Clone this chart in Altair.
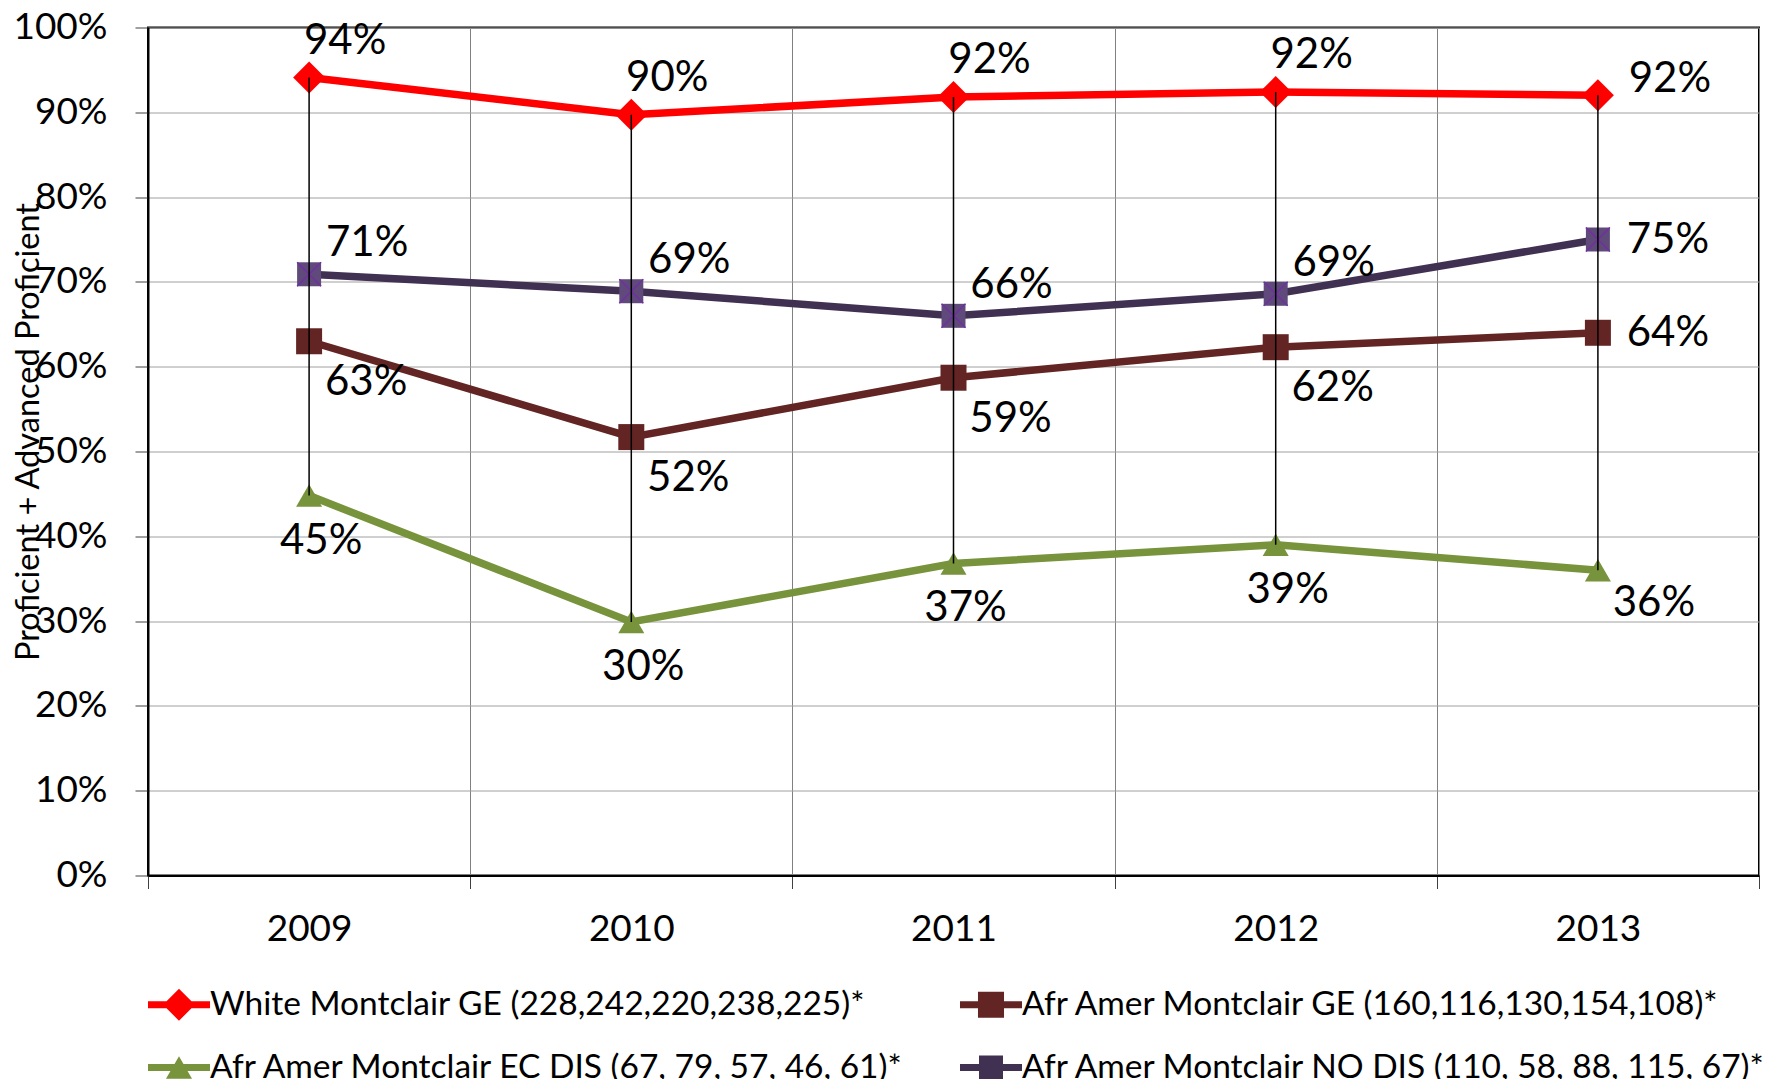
import altair as alt
import pandas as pd

years = ["2009", "2010", "2011", "2012", "2013"]
series_names = [
    "White Montclair GE (228,242,220,238,225)*",
    "Afr Amer Montclair GE (160,116,130,154,108)*",
    "Afr Amer Montclair EC DIS (67, 79, 57, 46, 61)*",
    "Afr Amer Montclair NO DIS (110, 58, 88, 115, 67)*",
]
white_ge = [0.941, 0.897, 0.918, 0.924, 0.920]
afr_ge = [0.630, 0.517, 0.587, 0.623, 0.640]
afr_ec_dis = [0.448, 0.299, 0.368, 0.390, 0.360]
afr_no_dis = [0.709, 0.689, 0.660, 0.686, 0.750]
y_ticks = [0, 0.1, 0.2, 0.3, 0.4, 0.5, 0.6, 0.7, 0.8, 0.9, 1.0]

line_colors = ["#FF0000", "#632523", "#77933C", "#403152"]
marker_fills = ["#FF0000", "#632523", "#77933C", "#604A7B"]
marker_shapes = ["diamond", "square", "triangle-up", "square"]
marker_sizes = [1024, 676, 676, 576]

# label offsets per series: (dx, dy) for inner years, (dx, dy) for last year
label_off = [((36, -37), (72, -16)),
             ((57, 41), (70, 0)),
             ((12, 45), (56, 33)),
             ((58, -31), (70, 0))]

legend_paths = [
    "M-1,-0.113L-0.403,-0.113L0,-0.516L0.403,-0.113L1,-0.113L1,0.113L0.403,0.113L0,0.516L-0.403,0.113L-1,0.113Z",
    "M-1,-0.113L-0.42,-0.113L-0.42,-0.42L0.42,-0.42L0.42,-0.113L1,-0.113L1,0.113L0.42,0.113L0.42,0.42L-0.42,0.42L-0.42,0.113L-1,0.113Z",
    "M-1,-0.113L-0.145,-0.113L0,-0.363L0.145,-0.113L1,-0.113L1,0.113L0.275,0.113L0.42,0.363L-0.42,0.363L-0.275,0.113L-1,0.113Z",
    "M-1,-0.113L-0.387,-0.113L-0.387,-0.387L0.387,-0.387L0.387,-0.113L1,-0.113L1,0.113L0.387,0.113L0.387,0.387L-0.387,0.387L-0.387,0.113L-1,0.113Z",
]

rows = []
for name, vals in zip(series_names, [white_ge, afr_ge, afr_ec_dis, afr_no_dis]):
    for yr, v in zip(years, vals):
        rows.append({"year": yr, "series": name, "value": v})
df = pd.DataFrame(rows)

FONT = "Lato"
W, H = 1611, 848

x_axis = alt.Axis(title=None, labelAngle=0, labelFontSize=37, labelFont=FONT,
                  labelColor="black", labelPadding=23, tickSize=13,
                  tickColor="#404040", tickBand="extent", grid=True,
                  gridColor="#808080", gridWidth=1, domainColor="black",
                  domainWidth=2)
y_axis = alt.Axis(title="Proficient + Advanced Proficient", values=y_ticks,
                  format=".0%", labelFontSize=37, labelFont=FONT,
                  labelColor="black", labelPadding=28, tickSize=13,
                  tickColor="#404040", grid=True, gridColor="#A0A0A0",
                  gridWidth=1, domainColor="black", domainWidth=2,
                  titleFont=FONT, titleFontSize=32.5, titleFontWeight="normal",
                  titleColor="black", titleAngle=270, titleX=-110, titleY=404,
                  titleAlign="center", titleBaseline="alphabetic")
x_scale = alt.Scale(type="band", paddingInner=0, paddingOuter=0)
y_scale = alt.Scale(domain=[0, 1], nice=False)

x_enc = alt.X("year:O", scale=x_scale, axis=x_axis)
y_enc = alt.Y("value:Q", scale=y_scale, axis=y_axis)

base = alt.Chart(df)

leg = alt.Legend(title=None, orient="bottom", columns=2, offset=26,
                 columnPadding=55, rowPadding=15, symbolSize=3844, symbolStrokeWidth=0,
                 symbolOpacity=1,
                 labelFont=FONT, labelFontSize=33.5, labelColor="black", labelOffset=0,
                 labelLimit=0)

color_enc = alt.Color("series:N", scale=alt.Scale(domain=series_names, range=line_colors),
                      legend=leg)
shape_enc = alt.Shape("series:N", scale=alt.Scale(domain=series_names, range=legend_paths),
                      legend=leg)

# legend-carrying layer (tiny marks hidden under the real markers)
legend_layer = base.mark_point(filled=True, opacity=1, strokeWidth=0).encode(
    x=x_enc, y=y_enc, color=color_enc, shape=shape_enc)

lines = base.mark_line(strokeWidth=7.5).encode(
    x=x_enc, y=y_enc, color=color_enc)

layers = [legend_layer, lines]
for name, fill, shp, sz in zip(series_names, marker_fills, marker_shapes, marker_sizes):
    layers.append(
        base.transform_filter(alt.datum.series == name)
        .mark_point(shape=shp, filled=True, size=sz, fill=fill, opacity=1, strokeWidth=0)
        .encode(x=x_enc, y=y_enc)
    )

# X overlay on the purple square markers
layers.append(
    base.transform_filter(alt.datum.series == series_names[3])
    .mark_point(shape="M-1,-1L1,1M-1,1L1,-1", filled=False, size=576, stroke="#7030A0",
                strokeWidth=1.5, opacity=1)
    .encode(x=x_enc, y=y_enc)
)

# high-low lines
layers.append(
    base.mark_rule(color="black", strokeWidth=1.5).encode(
        x=x_enc, y=alt.Y("min(value):Q", scale=y_scale, axis=y_axis), y2="max(value):Q")
)

# data labels
for name, (inner, last) in zip(series_names, label_off):
    for cond, (dx, dy) in [(alt.datum.year != years[-1], inner), (alt.datum.year == years[-1], last)]:
        layers.append(
            base.transform_filter(alt.datum.series == name)
            .transform_filter(cond)
            .mark_text(font=FONT, fontSize=42, color="black", dx=dx, dy=dy,
                       align="center", baseline="middle")
            .encode(x=x_enc, y=y_enc, text=alt.Text("value:Q", format=".0%"))
        )

chart = (alt.layer(*layers)
         .properties(width=W, height=H,
                     autosize=alt.AutoSizeParams(type="none"),
                     padding={"left": 140, "top": 19.5, "right": 24, "bottom": 203})
         .configure(font=FONT, background="white")
         .configure_view(stroke="black", strokeWidth=2))

chart.save("out.html", embed_options={"renderer": "svg", "actions": False})
